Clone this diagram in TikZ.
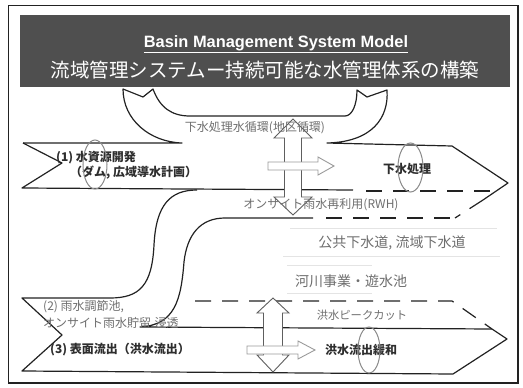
\documentclass[tikz,border=0pt]{standalone}
\usepackage{fontspec}
\setmainfont{Liberation Sans}
\newfontfamily\jp{Noto Sans CJK JP}
\definecolor{lin}{HTML}{222222}
\definecolor{txtd}{HTML}{2E2E2E}
\definecolor{txtl}{HTML}{6E6E6E}
\definecolor{arr}{HTML}{5E5E5E}
\definecolor{harr}{HTML}{9A9A9A}
\definecolor{ell}{HTML}{8A8A8A}
\definecolor{bar}{HTML}{4F4F4F}
\definecolor{faint}{HTML}{E4E4E4}
\tikzset{
  outline/.style={draw=lin, line width=1.2pt, line join=round},
  dashline/.style={draw=lin, line width=1.2pt, dash pattern=on 16pt off 11pt},
  varrow/.style={draw=arr, line width=0.9pt, fill=white, line join=miter},
  harrow/.style={draw=harr, line width=0.9pt, fill=white},
  mark ellipse/.style={draw=ell, line width=1pt},
  darktext/.style={text=txtd, font=\jp\bfseries\fontsize{12}{14}\selectfont, inner sep=0pt},
  lighttext/.style={text=txtl, font=\jp\fontsize{12}{14}\selectfont, inner sep=0pt},
}
\begin{document}
\begin{tikzpicture}[x=1pt,y=-1pt]
\useasboundingbox (0,0) rectangle (523,388);
% frame
\draw[draw=lin, line width=1.2pt] (8.5,5.5) rectangle (518,383);
% title bar
\fill[bar] (20,15) rectangle (510,87);
\node[text=white, font=\bfseries\fontsize{16.4}{18}\selectfont, inner sep=0pt] (ten) at (276,44) {\underline{Basin Management System Model}};
\node[text=white, font=\jp\fontsize{19.5}{22}\selectfont, inner sep=0pt] (tjp) at (265,70) {流域管理システムー持続可能な水管理体系の構築};

% faint boxes
\draw[faint, line width=0.8pt] (290,228) -- (497,228);
\draw[faint, line width=0.8pt] (283,256) -- (500,256);
\draw[faint, line width=0.8pt] (287,265) -- (372,265);
\draw[faint, line width=0.8pt] (287,293) -- (372,293);

% upper band with U-shaped recycle arrow
\draw[outline] (23,143) -- (182,143)
  .. controls (150,142) and (123,120) .. (123,89)
  -- (143,97) -- (153,89)
  .. controls (160,108) and (172,116) .. (190,116)
  -- (345,116)
  .. controls (352,116) and (357,105) .. (357,90)
  -- (367,97) -- (387,90)
  .. controls (389,118) and (372,142) .. (327,143)
  -- (452,146) -- (508,183) -- (483,200);
\draw[dashline] (483,200) -- (455,218);
\draw[outline] (23,143) -- (62,163) -- (22,188) -- (353,190);
\draw[dashline] (366,191) -- (496,191);

% S-curve outer
\draw[outline] (197,190)
  .. controls (170,190) and (156,205) .. (154,245)
  .. controls (152,285) and (140,298) .. (110,298)
  -- (22,298) -- (62,335) -- (22,371) -- (453,374) -- (507,339) -- (492,329);
% S-curve inner
\draw[outline] (313,218) -- (225,218)
  .. controls (200,218) and (187,235) .. (184,262)
  .. controls (181,300) and (175,325) .. (140,327) -- (492,329);
\draw[dashline] (326,218) -- (450,218);
\draw[dashline] (195,301) -- (452,301) -- (492,329);

% vertical double arrows
\draw[varrow] (293,119) -- (312,138) -- (301.5,138) -- (301.5,197) -- (312,197) -- (293,215)
  -- (274,197) -- (284.5,197) -- (284.5,138) -- (274,138) -- cycle;
\draw[varrow] (273,298) -- (289,313) -- (282.5,313) -- (282.5,355) -- (289,355) -- (273,372)
  -- (257,355) -- (263.5,355) -- (263.5,313) -- (257,313) -- cycle;
% horizontal arrows
\draw[harrow] (268,162) -- (318,162) -- (318,157) -- (334,166) -- (318,175) -- (318,170) -- (268,170) -- cycle;
\draw[harrow] (247,346) -- (298,346) -- (298,341) -- (315,350) -- (298,359) -- (298,354) -- (247,354) -- cycle;

% texts
\node[lighttext] (t1) at (255,128) {下水処理水循環(地区循環)};
\node[darktext, anchor=west] (t2) at (56,158) {(1) 水資源開発};
\node[darktext, anchor=west] (t3) at (70,173) {（ダム, 広域導水計画）};
\node[darktext] (t4) at (407,169) {下水処理};
\node[lighttext] (t5) at (321,205) {オンサイト雨水再利用(RWH)};
\node[lighttext, font=\jp\fontsize{14}{16}\selectfont] (t6) at (392,243) {公共下水道, 流域下水道};
\node[lighttext, font=\jp\fontsize{14}{16}\selectfont] (t7) at (351,281) {河川事業・遊水池};
\node[lighttext, font=\jp\fontsize{11.3}{13}\selectfont] (t8) at (362,315) {洪水ピークカット};
\node[lighttext, anchor=west] (t9) at (43,307) {(2) 雨水調節池,};
\node[lighttext, anchor=west] (t10) at (43,323) {オンサイト雨水貯留.浸透};
\node[darktext, anchor=west] (t11) at (50,350) {(3) 表面流出（洪水流出）};
\node[darktext] (t12) at (361,350) {洪水流出緩和};

% ellipses
\draw[mark ellipse] (95,164.5) ellipse [x radius=12, y radius=24.5];
\draw[mark ellipse] (410.5,167.5) ellipse [x radius=12.5, y radius=24.5];
\draw[mark ellipse] (369,350) ellipse [x radius=11, y radius=23];
\end{tikzpicture}
\end{document}
